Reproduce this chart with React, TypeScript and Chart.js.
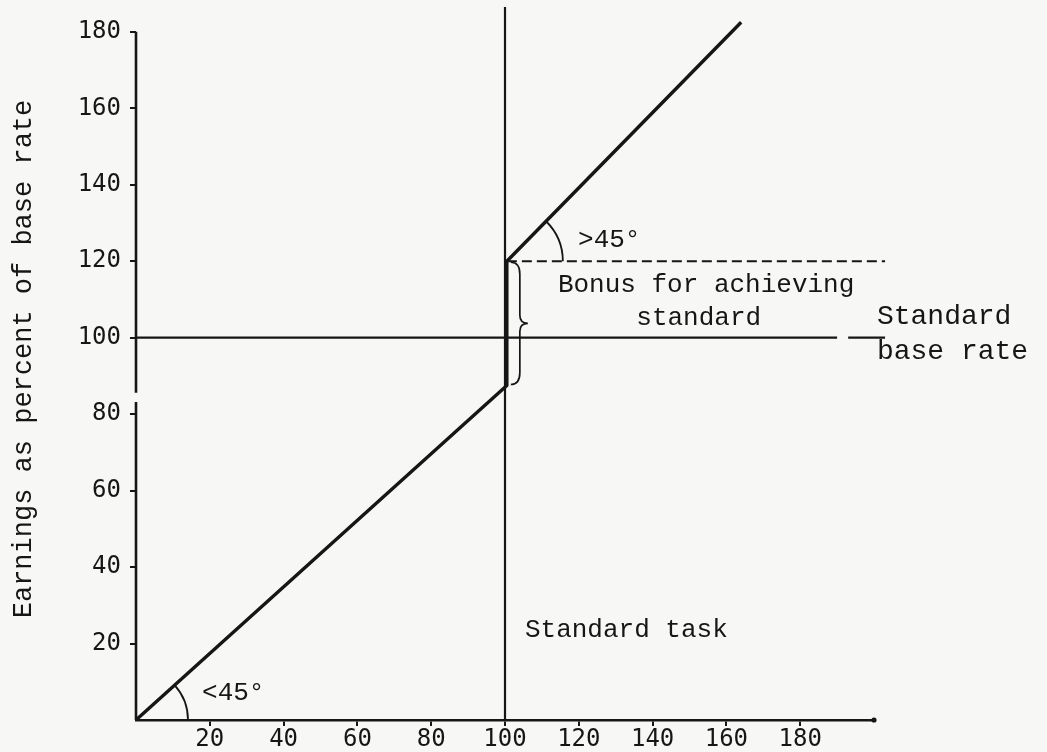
import React, { useEffect, useRef } from "react";
import { Chart, registerables } from "chart.js";

Chart.register(...registerables);

// ---- data ----
const xTicks = [20, 40, 60, 80, 100, 120, 140, 160, 180];
const yTicks = [20, 40, 60, 80, 100, 120, 140, 160, 180];
const earningsX = [0, 100.5, 100.5, 164];
const earningsY = [0, 87.5, 120, 182.5];
const standardTask = 100;
const standardBaseRate = 100;
const bonusLevel = 120;
const yAxisLower = [0, 83.2];
const yAxisUpper = [85.6, 180];
const baseRateSolid = [0, 190];
const baseRateStub = [193, 203];
const bonusLineEnd = 203;
const xMax = 200;
const yMax = 186.5;

const INK = "#161616";
const TEXT_FONT = "'Liberation Mono', 'DejaVu Sans Mono', monospace";
const TICK_FONT = "'DejaVu Sans Mono', monospace";

const decor = {
  id: "decor",
  beforeDraw(chart: any) {
    const { ctx, width, height } = chart;
    ctx.save();
    ctx.fillStyle = "#f7f7f5";
    ctx.fillRect(0, 0, width, height);
    ctx.restore();
  },
  afterDatasetsDraw(chart: any) {
    const { ctx } = chart;
    const xs = chart.scales.x;
    const ys = chart.scales.y;
    const px = (v: number) => xs.getPixelForValue(v);
    const py = (v: number) => ys.getPixelForValue(v);
    ctx.save();
    ctx.strokeStyle = INK;
    ctx.lineWidth = 1.8;

    // angle arc at origin
    const ox = px(earningsX[0]);
    const oy = py(earningsY[0]);
    const a1 = Math.atan2(py(earningsY[1]) - oy, px(earningsX[1]) - ox);
    ctx.beginPath();
    ctx.arc(ox, oy, 52, a1, 0);
    ctx.stroke();

    // angle arc at bonus corner
    const cx = px(earningsX[2]);
    const cy = py(earningsY[2]);
    const a2 = Math.atan2(py(earningsY[3]) - cy, px(earningsX[3]) - cx);
    ctx.beginPath();
    ctx.arc(cx, cy, 56, a2, 0);
    ctx.stroke();

    // curly brace for bonus
    const bx = px(earningsX[1]) + 13;
    const top = py(bonusLevel) + 1;
    const bot = py(earningsY[1]) - 1;
    const mid = (top + bot) / 2;
    ctx.lineWidth = 1.7;
    ctx.beginPath();
    ctx.moveTo(bx - 9, top);
    ctx.quadraticCurveTo(bx, top, bx, top + 12);
    ctx.lineTo(bx, mid - 8);
    ctx.quadraticCurveTo(bx, mid, bx + 8, mid);
    ctx.quadraticCurveTo(bx, mid, bx, mid + 8);
    ctx.lineTo(bx, bot - 12);
    ctx.quadraticCurveTo(bx, bot, bx - 9, bot);
    ctx.stroke();

    // small end mark of the x axis
    ctx.fillStyle = INK;
    ctx.beginPath();
    ctx.arc(px(xMax), py(0), 2.6, 0, Math.PI * 2);
    ctx.fill();

    // texts
    ctx.textBaseline = "middle";
    ctx.font = `26px ${TEXT_FONT}`;
    ctx.textAlign = "left";
    ctx.fillText("Standard task", px(105.4), py(23.5));
    ctx.fillText(">45°", px(119.8), py(125.5));
    ctx.fillText("<45°", px(17.9), py(7));
    ctx.textAlign = "center";
    ctx.fillText("Bonus for achieving", px(154.5), py(113.8));
    ctx.fillText("standard", px(152.5), py(105.2));
    ctx.font = `28px ${TEXT_FONT}`;
    ctx.textAlign = "left";
    ctx.fillText("Standard", px(200.8), py(105.4));
    ctx.fillText("base rate", px(200.8), py(96.3));

    // y axis title
    ctx.font = `27px ${TEXT_FONT}`;
    ctx.textAlign = "center";
    ctx.translate(24, 359);
    ctx.rotate(-Math.PI / 2);
    ctx.fillText("Earnings as percent of base rate", 0, 0);
    ctx.restore();
  },
};

function seg(xa: number, ya: number, xb: number, yb: number, width: number, dash: number[] = []) {
  return {
    data: [
      { x: xa, y: ya },
      { x: xb, y: yb },
    ],
    showLine: true,
    borderColor: INK,
    borderWidth: width,
    borderDash: dash,
    pointRadius: 0,
    clip: false,
    tension: 0,
  };
}

export default function App() {
  const ref = useRef<HTMLCanvasElement | null>(null);

  useEffect(() => {
    document.body.style.margin = "0";
    const canvas = ref.current;
    if (!canvas) return;
    const chart = new Chart(canvas, {
      type: "scatter",
      data: {
        datasets: [
          seg(0, yAxisLower[0], 0, yAxisLower[1], 2.6),
          seg(0, yAxisUpper[0], 0, yAxisUpper[1], 2.6),
          seg(baseRateSolid[0], standardBaseRate, baseRateSolid[1], standardBaseRate, 2.2),
          seg(baseRateStub[0], standardBaseRate, baseRateStub[1], standardBaseRate, 2.2),
          seg(standardTask, 0, standardTask, yMax, 2.2),
          seg(earningsX[2], bonusLevel, bonusLineEnd, bonusLevel, 2, [10, 5]),
          {
            data: earningsX.map((x, i) => ({ x, y: earningsY[i] })),
            showLine: true,
            borderColor: INK,
            borderWidth: 3.4,
            pointRadius: 0,
            clip: false,
            tension: 0,
            borderJoinStyle: "round",
          },
        ] as any,
      },
      options: {
        animation: false,
        responsive: false,
        events: [],
        layout: { padding: { top: 7, right: 173, left: 0, bottom: 0 } },
        plugins: {
          legend: { display: false },
          tooltip: { enabled: false },
          title: { display: false },
        },
        scales: {
          x: {
            type: "linear",
            min: 0,
            max: xMax,
            afterBuildTicks: (s: any) => {
              s.ticks = xTicks.map((v) => ({ value: v }));
            },
            afterFit: (s: any) => {
              s.height = 32;
              s.paddingLeft = 0;
              s.paddingRight = 0;
              s.paddingTop = 0;
              s.paddingBottom = 0;
            },
            grid: {
              drawOnChartArea: false,
              drawTicks: true,
              tickLength: 6,
              color: INK,
              lineWidth: 2,
            },
            border: { display: true, color: INK, width: 2.6 },
            ticks: {
              padding: -1,
              color: INK,
              font: { family: TICK_FONT, size: 24 },
              maxRotation: 0,
              autoSkip: false,
              callback: (v: any) => String(v),
            },
          },
          y: {
            type: "linear",
            min: 0,
            max: yMax,
            afterBuildTicks: (s: any) => {
              s.ticks = yTicks.map((v) => ({ value: v }));
            },
            afterFit: (s: any) => {
              s.width = 136;
              s.paddingLeft = 0;
              s.paddingRight = 0;
              s.paddingTop = 0;
              s.paddingBottom = 0;
            },
            grid: {
              drawOnChartArea: false,
              drawTicks: true,
              tickLength: 6,
              color: INK,
              lineWidth: 2,
            },
            border: { display: false },
            ticks: {
              padding: 9,
              color: INK,
              font: { family: TICK_FONT, size: 24 },
              autoSkip: false,
              callback: (v: any) => String(v),
            },
          },
        },
      },
      plugins: [decor],
    });
    return () => chart.destroy();
  }, []);

  return (
    <div style={{ width: 1047, height: 752 }}>
      <canvas ref={ref} width={1047} height={752} style={{ display: "block" }} />
    </div>
  );
}
